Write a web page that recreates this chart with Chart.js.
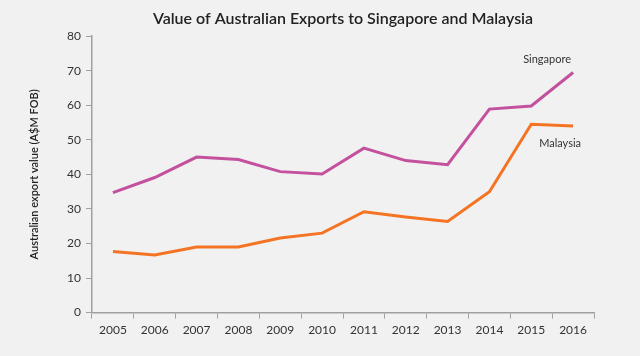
<!DOCTYPE html>
<html>
<head>
<meta charset="utf-8">
<script src="https://cdn.jsdelivr.net/npm/chart.js@4"></script>
<style>
  html, body { margin: 0; padding: 0; background: #f1f1f1; }
  #wrap { width: 640px; height: 356px; position: relative; }
</style>
</head>
<body>
<div id="wrap"><canvas id="c" width="640" height="356"></canvas></div>
<script>
const years = ['2005','2006','2007','2008','2009','2010','2011','2012','2013','2014','2015','2016'];
const singapore = [34.7, 39.1, 45.0, 44.3, 40.8, 40.1, 47.6, 44.0, 42.8, 58.9, 59.8, 69.5];
const malaysia = [17.7, 16.7, 19.0, 19.0, 21.6, 23.0, 29.2, 27.7, 26.4, 35.0, 54.5, 54.0];
const yTicks = [0, 10, 20, 30, 40, 50, 60, 70, 80];

const pink = '#c4519d';
const orange = '#f47424';
const textCol = '#333333';
const axisCol = '#a0a0a0';

const labelPlugin = {
  id: 'seriesLabels',
  afterDatasetsDraw(chart) {
    const ctx = chart.ctx;
    const xs = chart.scales.x, ys = chart.scales.y;
    const last = years.length - 1;
    ctx.save();
    ctx.font = '11px Lato';
    ctx.fillStyle = textCol;
    ctx.textAlign = 'center';
    ctx.textBaseline = 'middle';
    ctx.fillText('Singapore', xs.getPixelForValue(last) - 26, ys.getPixelForValue(singapore[last]) - 13);
    ctx.fillText('Malaysia', xs.getPixelForValue(last) - 13, ys.getPixelForValue(malaysia[last]) + 17);
    ctx.restore();
  }
};

new Chart(document.getElementById('c'), {
  type: 'line',
  data: {
    labels: years,
    datasets: [
      { label: 'Singapore', data: singapore, borderColor: pink, borderWidth: 3, pointRadius: 0, tension: 0, fill: false },
      { label: 'Malaysia', data: malaysia, borderColor: orange, borderWidth: 3, pointRadius: 0, tension: 0, fill: false }
    ]
  },
  options: {
    responsive: false,
    animation: false,
    layout: { padding: { left: 28, right: 46, top: 9, bottom: 15 } },
    plugins: {
      legend: { display: false },
      tooltip: { enabled: false },
      title: {
        display: true,
        text: 'Value of Australian Exports to Singapore and Malaysia',
        color: '#222',
        font: { family: 'Lato', size: 16, weight: '600' },
        fullSize: false,
        padding: { top: 0, bottom: 8 }
      }
    },
    scales: {
      x: {
        type: 'category',
        offset: true,
        grid: { display: true, drawOnChartArea: false, offset: true, drawTicks: true, tickLength: 6, color: axisCol, lineWidth: 1 },
        border: { display: true, color: axisCol, width: 1.5 },
        ticks: { color: textCol, font: { family: 'Lato', size: 12 }, padding: 4, maxRotation: 0, autoSkip: false }
      },
      y: {
        min: 0, max: 80,
        afterBuildTicks(scale) { scale.ticks = yTicks.map(v => ({ value: v })); },
        afterFit(scale) { scale.width = 64; },
        grid: { display: true, drawOnChartArea: false, drawTicks: true, tickLength: 6, color: axisCol, lineWidth: 1 },
        border: { display: true, color: axisCol, width: 1.5 },
        ticks: { color: textCol, font: { family: 'Lato', size: 12 }, padding: 5 },
        title: {
          display: true,
          text: 'Australian export value (A$M FOB)',
          color: '#222',
          font: { family: 'Lato', size: 11, weight: '600' },
          padding: { top: 0, bottom: 0 }
        }
      }
    }
  },
  plugins: [labelPlugin]
});
</script>
</body>
</html>
